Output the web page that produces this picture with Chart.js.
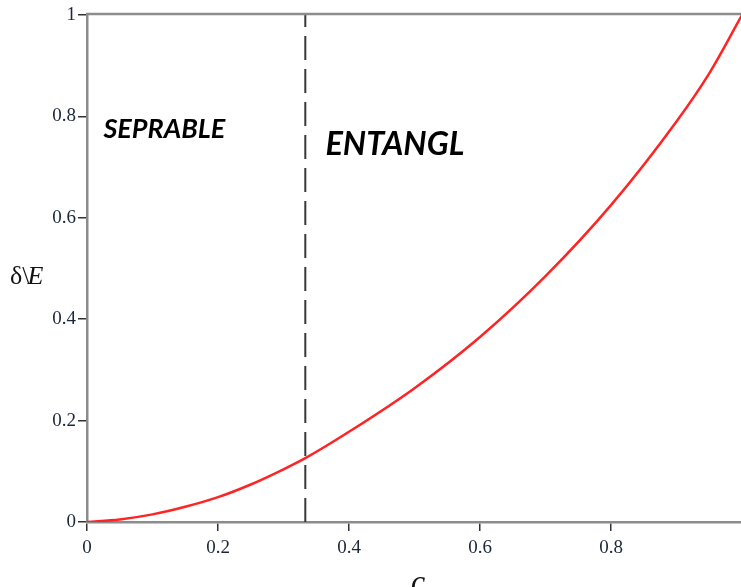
<!DOCTYPE html>
<html>
<head>
<meta charset="utf-8">
<script src="https://cdn.jsdelivr.net/npm/chart.js@4"></script>
<style>
html,body{margin:0;padding:0;background:#fff;overflow:hidden;}
#wrap{position:absolute;left:0;top:0;width:748px;height:587px;}
</style>
</head>
<body>
<div id="wrap"><canvas id="c" width="748" height="587"></canvas></div>
<script>
// data
const cValues = [0, 0.05, 0.1, 0.15, 0.2, 0.25, 0.3, 0.3333, 0.4, 0.5, 0.6, 0.7, 0.8, 0.9, 0.95, 1.0];
const deltaE  = [0, 0.005, 0.015, 0.03, 0.049, 0.074, 0.104, 0.126, 0.178, 0.264, 0.365, 0.485, 0.625, 0.79, 0.885, 1.0];
const boundaryX = [0.3333, 0.3333];
const boundaryY = [0, 1];
const xTickLabels = ["0", "0.2", "0.4", "0.6", "0.8", ""];
const yTickLabels = ["0", "0.2", "0.4", "0.6", "0.8", "1"];
const regionLabels = [
  {text: "SEPRABLE", x: 0.025, y: 0.775, size: 27},
  {text: "ENTANGL",  x: 0.364, y: 0.745, size: 32.5}
];

const curve = cValues.map((x, i) => ({x: x, y: deltaE[i]}));
const boundary = boundaryX.map((x, i) => ({x: x, y: boundaryY[i]}));

const overlay = {
  id: 'overlay',
  afterDraw(chart) {
    const ctx = chart.ctx, a = chart.chartArea;
    const xs = chart.scales.x, ys = chart.scales.y;
    ctx.save();
    // top frame line
    ctx.strokeStyle = '#8c8c8c';
    ctx.lineWidth = 2.5;
    ctx.beginPath();
    ctx.moveTo(a.left - 1, a.top - 1);
    ctx.lineTo(a.right, a.top - 1);
    ctx.stroke();
    // region labels
    ctx.fillStyle = '#000';
    ctx.textBaseline = 'middle';
    ctx.textAlign = 'left';
    regionLabels.forEach(r => {
      ctx.font = 'italic bold ' + r.size + 'px Lato';
      ctx.fillText(r.text, xs.getPixelForValue(r.x), ys.getPixelForValue(r.y));
    });
    // y title
    ctx.textBaseline = 'alphabetic';
    ctx.fillStyle = '#111';
    ctx.font = '26px "Liberation Serif"';
    const w1 = ctx.measureText('δ\\').width;
    ctx.fillText('δ\\', 10, 284);
    ctx.font = 'italic 26px "Liberation Serif"';
    ctx.fillText('E', 10 + w1 - 2, 284);
    // x title
    ctx.textAlign = 'center';
    ctx.font = 'italic 32px "Liberation Serif"';
    ctx.fillText('c', 418, 592);
    ctx.restore();
  }
};

new Chart(document.getElementById('c'), {
  type: 'scatter',
  data: {
    datasets: [
      {data: curve, showLine: true, borderColor: '#ff2424', borderWidth: 2.5, pointRadius: 0, cubicInterpolationMode: 'monotone', fill: false},
      {data: boundary, showLine: true, borderColor: '#383838', borderWidth: 2, borderDash: [24, 9], pointRadius: 0, fill: false}
    ]
  },
  options: {
    responsive: false,
    animation: false,
    layout: {padding: {top: 15, right: 3.5, left: 0, bottom: 0}},
    plugins: {legend: {display: false}, tooltip: {enabled: false}},
    scales: {
      x: {
        type: 'linear', min: 0, max: 1,
        afterFit(s) { s.height = 65; },
        ticks: {stepSize: 0.2, padding: 6, color: '#1c2638',
          font: {family: '"Liberation Serif"', size: 19},
          callback: (v, i) => xTickLabels[i]},
        grid: {drawOnChartArea: false, drawTicks: true, tickLength: 9, color: '#333', lineWidth: 1.5},
        border: {color: '#8c8c8c', width: 2.5}
      },
      y: {
        type: 'linear', min: 0, max: 1,
        afterFit(s) { s.width = 87; },
        ticks: {stepSize: 0.2, padding: 2, color: '#1c2638',
          font: {family: '"Liberation Serif"', size: 19},
          callback: (v, i) => yTickLabels[i]},
        grid: {drawOnChartArea: false, drawTicks: true, tickLength: 9, color: '#333', lineWidth: 1.5},
        border: {color: '#8c8c8c', width: 2.5}
      }
    }
  },
  plugins: [overlay]
});
</script>
</body>
</html>
